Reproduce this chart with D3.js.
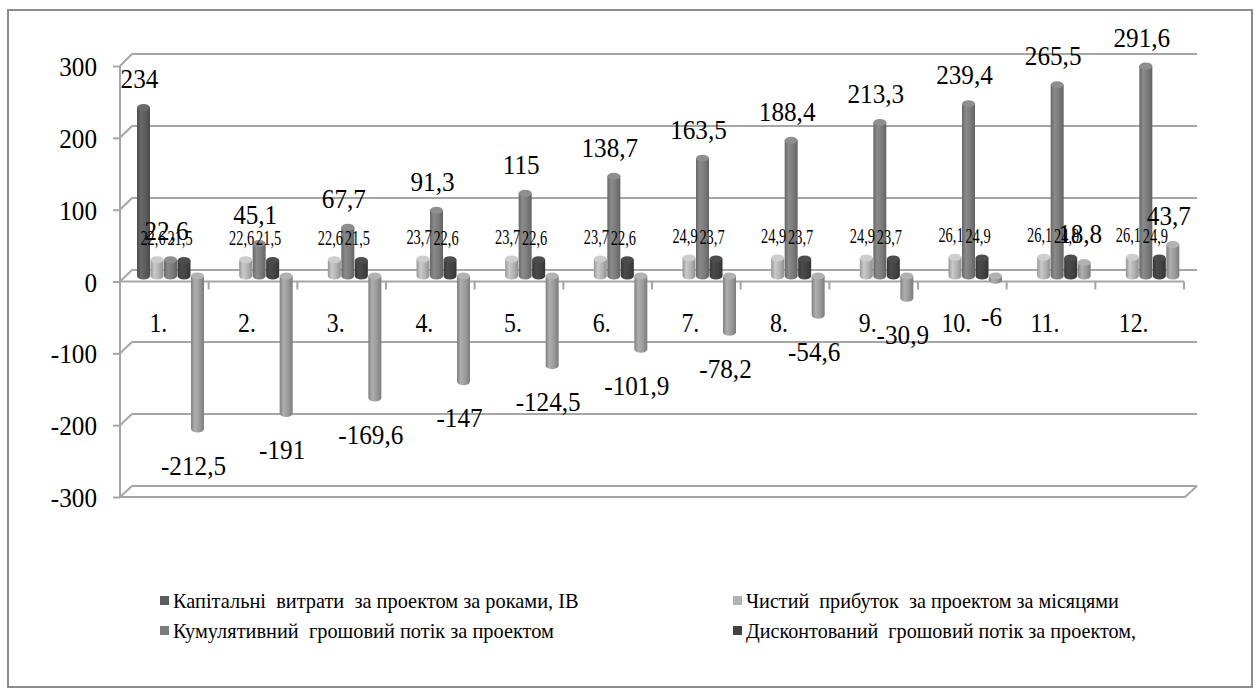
<!DOCTYPE html>
<html>
<head>
<meta charset="utf-8">
<script src="https://cdn.jsdelivr.net/npm/d3@7/dist/d3.min.js"></script>
<style>
  body { margin: 0; background: #fff; }
  .legend text { white-space: pre; }
</style>
</head>
<body>
<svg id="chart" width="1256" height="693" font-family="Liberation Serif, DejaVu Serif, serif"></svg>
<script>
// ---- data ----
const categories = ['1.', '2.', '3.', '4.', '5.', '6.', '7.', '8.', '9.', '10.', '11.', '12.'];
const capital = [234, null, null, null, null, null, null, null, null, null, null, null];
const netProfit = [22.6, 22.6, 22.6, 23.7, 23.7, 23.7, 24.9, 24.9, 24.9, 26.1, 26.1, 26.1];
const cumulative = [22.6, 45.1, 67.7, 91.3, 115, 138.7, 163.5, 188.4, 213.3, 239.4, 265.5, 291.6];
const discounted = [21.5, 21.5, 21.5, 22.6, 22.6, 22.6, 23.7, 23.7, 23.7, 24.9, 24.9, 24.9];
const cumDiscounted = [-212.5, -191, -169.6, -147, -124.5, -101.9, -78.2, -54.6, -30.9, -6, 18.8, 43.7];
const yTicks = [-300, -200, -100, 0, 100, 200, 300];
const legendNames = [
  'Капітальні  витрати  за проектом за роками, ІВ',
  'Чистий  прибуток  за проектом за місяцями',
  'Кумулятивний  грошовий потік за проектом',
  'Дисконтований  грошовий потік за проектом,'
];

const series = [
  {key: 'cap', values: capital, color: '#5c5c5c', big: true, legend: 0},
  {key: 'net', values: netProfit, color: '#b2b2b2', big: false, legend: 1},
  {key: 'cum', values: cumulative, color: '#7b7b7b', big: true, legend: 2},
  {key: 'disc', values: discounted, color: '#424242', big: false, legend: 3},
  {key: 'cumd', values: cumDiscounted, color: '#9a9a9a', big: true, legend: null}
];

const FONT = 'Liberation Serif, DejaVu Serif, serif';
const svg = d3.select('#chart');
const fmt = v => String(v).replace('.', ',');

// outer frame
svg.append('rect')
  .attr('x', 8).attr('y', 10).attr('width', 1244).attr('height', 677)
  .attr('fill', 'none').attr('stroke', '#8c8c8c').attr('stroke-width', 2);

// scales (front plane, mid plane for the bars, back wall)
const depthX = 12;
const xFront = d3.scaleBand().domain(categories).range([120, 1184]);
const slot = d3.scaleBand().domain(series.map(s => s.key)).range([17, 84.5]);
const yFront = d3.scaleLinear().domain([-300, 300]).range([497, 66]);
const yBack = d3.scaleLinear().domain([-300, 300]).range([486, 54]);
const yMid = d3.scaleLinear().domain([-300, 300]).range([492, 60]);

const grid = svg.append('g').attr('stroke', '#a6a6a6').attr('stroke-width', 2).attr('fill', 'none');

// back wall gridlines + left wall diagonals
yTicks.forEach(t => {
  grid.append('line')
    .attr('x1', 120 + depthX).attr('x2', 1197)
    .attr('y1', yBack(t)).attr('y2', yBack(t));
  grid.append('line')
    .attr('x1', 120).attr('x2', 120 + depthX)
    .attr('y1', yFront(t)).attr('y2', yBack(t));
});

// floor front edge at -300
grid.append('path')
  .attr('d', `M120,${yFront(-300)}H1185L1197,${yBack(-300)}`);

// left axis
const yAxis = d3.axisLeft(yFront).tickValues(yTicks).tickSize(7).tickFormat(d => d);
const yg = svg.append('g').attr('transform', 'translate(120,0)').call(yAxis)
  .attr('font-family', FONT);
yg.select('.domain').attr('stroke', '#a6a6a6').attr('stroke-width', 2).attr('d', `M0,${yFront(300)}V${yFront(-300)}`);
yg.selectAll('.tick line').attr('stroke', '#a6a6a6').attr('stroke-width', 2);
yg.selectAll('.tick text')
  .attr('font-family', FONT)
  .attr('font-size', 28).attr('fill', '#000')
  .attr('x', -23 / 0.9).attr('dy', '0.34em')
  .attr('transform', 'scale(0.9,1)');

// category axis at zero (front edge)
grid.append('line')
  .attr('x1', 120).attr('x2', xFront.range()[1])
  .attr('y1', yFront(0)).attr('y2', yFront(0));
const bounds = categories.map(c => xFront(c)).concat([xFront.range()[1]]);
grid.selectAll('line.ctick').data(bounds).enter().append('line')
  .attr('class', 'ctick')
  .attr('x1', d => d).attr('x2', d => d)
  .attr('y1', yFront(0)).attr('y2', yFront(0) + 8);

function label(g, x, y, str, size, sx, anchor) {
  g.append('text')
    .attr('transform', `translate(${x},${y}) scale(${sx},1)`)
    .attr('text-anchor', anchor || 'middle')
    .attr('dy', '0.34em')
    .attr('font-family', FONT)
    .attr('font-size', size)
    .attr('fill', '#000')
    .text(str);
}

const catLabels = svg.append('g');
categories.forEach(c => {
  label(catLabels, xFront(c) + xFront.bandwidth() / 2 - 6, yFront(0) + 41, c, 28, 0.85);
});

// gradients for cylinders
const defs = svg.append('defs');
series.forEach(s => {
  const base = d3.color(s.color);
  const gr = defs.append('linearGradient').attr('id', 'g-' + s.key)
    .attr('x1', '0%').attr('x2', '100%').attr('y1', '0%').attr('y2', '0%');
  gr.append('stop').attr('offset', '0%').attr('stop-color', base.darker(0.5));
  gr.append('stop').attr('offset', '30%').attr('stop-color', base.brighter(0.35));
  gr.append('stop').attr('offset', '65%').attr('stop-color', base);
  gr.append('stop').attr('offset', '100%').attr('stop-color', base.darker(0.6));
});

// bars
const barW = slot.bandwidth() - 0.5;
const ry = 3.5;
const bars = svg.append('g');
const labels = svg.append('g');
series.forEach(s => {
  s.values.forEach((v, i) => {
    if (v === null) return;
    const x = xFront(categories[i]) + slot(s.key);
    const cx = x + barW / 2;
    const y0 = yMid(0), y1 = yMid(v);
    const top = Math.min(y0, y1), bot = Math.max(y0, y1);
    const g = bars.append('g');
    g.append('path')
      .attr('d', `M${x},${top}V${bot}A${barW / 2},${ry} 0 0 0 ${x + barW},${bot}V${top}Z`)
      .attr('fill', `url(#g-${s.key})`);
    g.append('ellipse')
      .attr('cx', cx).attr('cy', top).attr('rx', barW / 2).attr('ry', ry)
      .attr('fill', d3.color(s.color).brighter(0.4));
    if (s.big) {
      const ly = v >= 0 ? y1 - 29 : y1 + 36;
      label(labels, cx - 4, ly, fmt(v), 28, 0.9);
    } else {
      label(labels, cx - 4, y1 - 22, fmt(v), 20, 0.72);
    }
  });
});

// legend
const legend = svg.append('g').attr('class', 'legend');
const legendPos = [
  {x: 160, y: 601, sx: 0.97}, {x: 733, y: 601, sx: 0.96},
  {x: 160, y: 631, sx: 0.97}, {x: 733, y: 631, sx: 0.96}
];
series.filter(s => s.legend !== null).forEach(s => {
  const p = legendPos[s.legend];
  legend.append('rect')
    .attr('x', p.x).attr('y', p.y - 5).attr('width', 9).attr('height', 9)
    .attr('fill', s.color);
  label(legend, p.x + 13, p.y, legendNames[s.legend], 21, p.sx, 'start');
});
</script>
</body>
</html>
